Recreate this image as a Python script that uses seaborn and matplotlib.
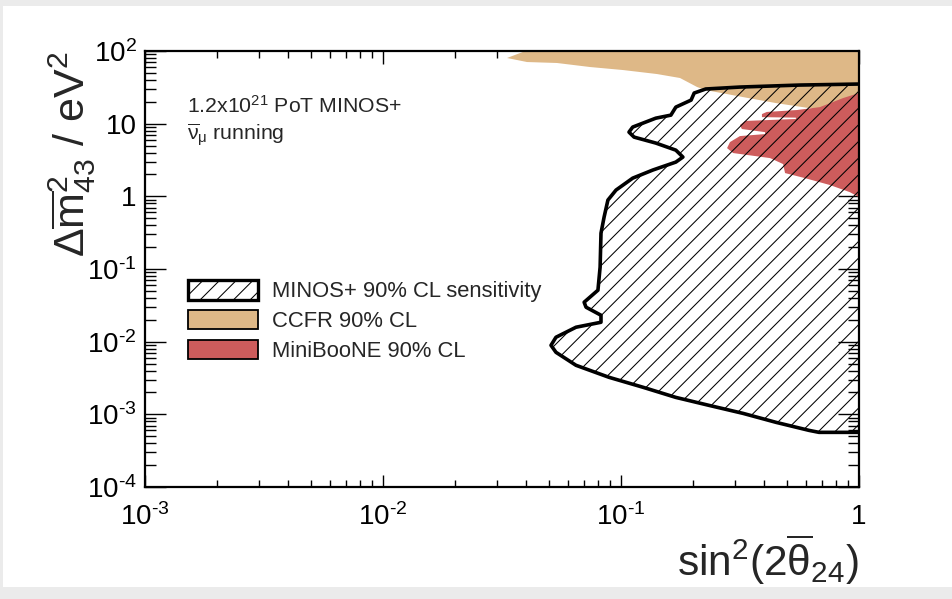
import numpy as np
import pandas as pd
import matplotlib
matplotlib.use("Agg")
import matplotlib.pyplot as plt
from matplotlib.patches import Patch, Rectangle
from matplotlib.ticker import LogLocator, FixedLocator, FixedFormatter, NullFormatter
import seaborn as sns

# MINOS+ 90% CL sensitivity contour: sin^2(2 theta_24) vs dm^2_43 [eV^2]
minos_sin2 = [1.0, 0.565, 0.316, 0.227, 0.203, 0.197, 0.170, 0.162, 0.140, 0.112,
              0.108, 0.1135, 0.140, 0.170, 0.182, 0.170, 0.136, 0.112, 0.0953, 0.0881,
              0.0849, 0.0824, 0.0817, 0.080, 0.070, 0.0713, 0.0824, 0.0824, 0.0647, 0.0533,
              0.0508, 0.0533, 0.0647, 0.0891, 0.1236, 0.170, 0.234, 0.326, 0.448, 0.616,
              0.679, 1.0]
minos_dm2 = [35.1, 34.0, 31.9, 30.0, 26.4, 21.1, 16.9, 13.1, 11.9, 8.98,
             7.65, 6.53, 5.41, 4.32, 3.47, 2.96, 2.30, 1.78, 1.22, 0.888,
             0.517, 0.311, 0.106, 0.0511, 0.0349, 0.0298, 0.0231, 0.0185, 0.0158, 0.0115,
             0.00891, 0.00714, 0.00473, 0.00323, 0.00236, 0.00171, 0.00133, 0.00103, 0.000776, 0.000602,
             0.000565, 0.000565]

# CCFR 90% CL excluded region
ccfr_sin2 = [0.0332, 0.0387, 0.045, 1.0, 1.0, 0.616, 0.448, 0.326, 0.227, 0.209,
             0.177, 0.1416, 0.102, 0.0741, 0.0538, 0.0403]
ccfr_dm2 = [80.1, 97.0, 100.0, 100.0, 14.5, 16.4, 19.2, 23.2, 29.0, 31.9,
            42.5, 48.2, 54.7, 60.2, 68.4, 70.5]

# MiniBooNE 90% CL allowed region
mb_sin2 = [1.0, 0.857, 0.685, 0.548, 0.410, 0.391, 0.391, 0.543, 0.543, 0.332,
           0.316, 0.322, 0.403, 0.403, 0.316, 0.287, 0.279, 0.296, 0.423, 0.480,
           0.489, 0.593, 0.755, 0.916, 1.0]
mb_dm2 = [26.4, 22.5, 16.9, 15.4, 14.5, 13.55, 12.3, 12.1, 11.6, 10.9,
          9.57, 8.44, 7.65, 7.19, 6.75, 5.58, 4.61, 3.94, 3.36, 2.78,
          2.09, 1.78, 1.43, 1.14, 0.975]

HY = "\u2010"  # short hyphen used in the exponents
x_ticks = [1e-3, 1e-2, 1e-1, 1.0]
x_tick_labels = [f"10$^{{{HY}3}}$", f"10$^{{{HY}2}}$", f"10$^{{{HY}1}}$", "1"]
y_ticks = [1e-4, 1e-3, 1e-2, 1e-1, 1.0, 10.0, 100.0]
y_tick_labels = [f"10$^{{{HY}4}}$", f"10$^{{{HY}3}}$", f"10$^{{{HY}2}}$", f"10$^{{{HY}1}}$",
                 "1", "10", "10$^{2}$"]

legend_labels = ["MINOS+ 90% CL sensitivity", "CCFR 90% CL", "MiniBooNE 90% CL"]

COL_CCFR = "#deb887"
COL_MB = "#cd5c5c"

sns.set_theme(style="ticks")
plt.rcParams.update({
    "font.family": ["Liberation Sans", "DejaVu Sans"],
    "mathtext.fontset": "custom",
    "mathtext.rm": "Liberation Sans",
    "mathtext.it": "Liberation Sans:italic",
    "mathtext.bf": "Liberation Sans:bold",
    "mathtext.default": "regular",
    "hatch.linewidth": 0.75,
    "axes.linewidth": 1.6,
})

fig = plt.figure(figsize=(9.52, 5.99), dpi=100, facecolor="#ebebeb")
fig.patches.append(Rectangle((3 / 952, 1 - 587 / 599), 1.0, (587 - 6) / 599,
                             transform=fig.transFigure, facecolor="white",
                             edgecolor="none", zorder=-10))

ax = fig.add_axes([145 / 952, 1 - 487 / 599, 714 / 952, 436 / 599])
ax.set_zorder(1)
ax.set_facecolor("white")
ax.set_xscale("log")
ax.set_yscale("log")
ax.set_xlim(1e-3, 1.0)
ax.set_ylim(1e-4, 1e2)

ax.fill(ccfr_sin2, ccfr_dm2, facecolor=COL_CCFR, edgecolor="none", zorder=1)
ax.fill(mb_sin2, mb_dm2, facecolor=COL_MB, edgecolor="none", zorder=1.1)
ax.fill(minos_sin2, minos_dm2, facecolor="none", edgecolor="black",
        hatch="//", linewidth=0, zorder=1.2)

contour = pd.DataFrame({"sin2": minos_sin2, "dm2": minos_dm2})
sns.lineplot(data=contour, x="sin2", y="dm2", sort=False, estimator=None,
             color="black", linewidth=2.6, ax=ax, zorder=2)
ax.set_xlim(1e-3, 1.0)
ax.set_ylim(1e-4, 1e2)

for s in ax.spines.values():
    s.set_color("black")
    s.set_linewidth(1.6)
    s.set_zorder(3)

ax.xaxis.set_major_locator(FixedLocator(x_ticks))
ax.xaxis.set_major_formatter(FixedFormatter(x_tick_labels))
ax.yaxis.set_major_locator(FixedLocator(y_ticks))
ax.yaxis.set_major_formatter(FixedFormatter(y_tick_labels))
ax.xaxis.set_minor_locator(LogLocator(base=10, subs=np.arange(2, 10), numticks=20))
ax.yaxis.set_minor_locator(LogLocator(base=10, subs=np.arange(2, 10), numticks=20))
ax.xaxis.set_minor_formatter(NullFormatter())
ax.yaxis.set_minor_formatter(NullFormatter())

ax.tick_params(which="both", direction="in", top=True, right=True, color="black",
               width=1.0, labelsize=20, labelcolor="black")
ax.tick_params(axis="y", which="major", length=15, pad=6)
ax.tick_params(axis="y", which="minor", length=8)
ax.tick_params(axis="x", which="major", length=9, pad=12)
ax.tick_params(axis="x", which="minor", length=5)

ax.set_xlabel(r"sin$^{2}$(2$\overline{\theta}_{24}$)", fontsize=30.5, loc="right")
ax.xaxis.set_label_coords(1.0, -0.104)
ax.set_ylabel(r"$\Delta\overline{m}^{2}_{43}$ / eV$^{2}$", fontsize=31, loc="top")
ax.yaxis.set_label_coords(-0.066, 1.0)

ax.text(0.0588, 0.858, r"1.2x10$^{21}$ PoT MINOS+", transform=ax.transAxes,
        fontsize=15.3, va="baseline", ha="left")
ax.text(0.0588, 0.796, r"$\overline{\nu}_{\mu}$ running", transform=ax.transAxes,
        fontsize=15.3, va="baseline", ha="left")

handles = [
    Patch(facecolor="white", edgecolor="black", hatch="//", linewidth=2.4),
    Patch(facecolor=COL_CCFR, edgecolor="black", linewidth=1.3),
    Patch(facecolor=COL_MB, edgecolor="black", linewidth=1.3),
]
ax.legend(handles, legend_labels, loc="upper left",
          bbox_to_anchor=((188 - 145) / 714, (487 - 280) / 436),
          frameon=False, fontsize=15.8, handlelength=3.2, handleheight=1.0,
          labelspacing=0.34, handletextpad=0.64, borderpad=0, borderaxespad=0)

fig.savefig("out.png", dpi=100, facecolor=fig.get_facecolor())
